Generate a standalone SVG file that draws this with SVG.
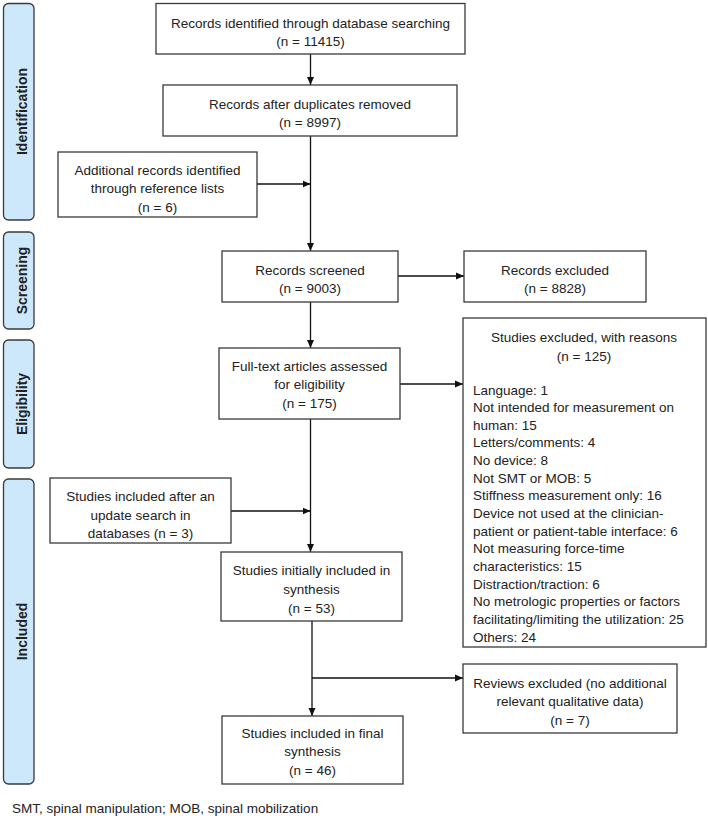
<svg xmlns="http://www.w3.org/2000/svg" width="708" height="819" viewBox="0 0 708 819">
<style>
text{font-family:"Liberation Sans",Arial,sans-serif;font-size:13.5px;fill:#222}
.c{text-anchor:middle}
.box{fill:#fff;stroke:#3a3a3a;stroke-width:1.3}
.bar{fill:#cde8fb;stroke:#3a3a3a;stroke-width:1.3}
.lab{font-weight:bold;font-size:14px;text-anchor:middle}
.con{stroke:#111;stroke-width:1.3;fill:none}
</style>
<defs>
<marker id="ah" markerUnits="userSpaceOnUse" markerWidth="8" markerHeight="8" refX="8" refY="4" orient="auto">
<path d="M0,0.5 L8,4 L0,7.5 z" fill="#111"/>
</marker>
</defs>
<rect width="708" height="819" fill="#fff"/>

<g id="phase-identification">
<rect class="bar" x="3.5" y="3.5" width="30.5" height="216.5" rx="5"/>
<text class="lab" transform="translate(27,111.5) rotate(-90)">Identification</text>
</g>
<g id="phase-screening">
<rect class="bar" x="3.5" y="232" width="30.5" height="97" rx="5"/>
<text class="lab" transform="translate(27,280.5) rotate(-90)">Screening</text>
</g>
<g id="phase-eligibility">
<rect class="bar" x="3.5" y="340" width="30.5" height="128" rx="5"/>
<text class="lab" transform="translate(27,404) rotate(-90)">Eligibility</text>
</g>
<g id="phase-included">
<rect class="bar" x="3.5" y="479" width="30.5" height="305" rx="5"/>
<text class="lab" transform="translate(27,631.5) rotate(-90)">Included</text>
</g>

<g id="connectors">
<line class="con" x1="310.5" y1="54" x2="310.5" y2="85" marker-end="url(#ah)"/>
<line class="con" x1="310.5" y1="136" x2="310.5" y2="251" marker-end="url(#ah)"/>
<line class="con" x1="257" y1="184" x2="310.5" y2="184" marker-end="url(#ah)"/>
<line class="con" x1="398" y1="276" x2="464" y2="276" marker-end="url(#ah)"/>
<line class="con" x1="310.5" y1="302" x2="310.5" y2="348" marker-end="url(#ah)"/>
<line class="con" x1="400" y1="384" x2="463" y2="384" marker-end="url(#ah)"/>
<line class="con" x1="310.5" y1="419" x2="310.5" y2="552" marker-end="url(#ah)"/>
<line class="con" x1="231" y1="511" x2="310.5" y2="511" marker-end="url(#ah)"/>
<line class="con" x1="312" y1="621" x2="312" y2="716" marker-end="url(#ah)"/>
<line class="con" x1="312" y1="678" x2="463" y2="678" marker-end="url(#ah)"/>
</g>

<g id="records-identified">
<rect class="box" x="156" y="3.5" width="309" height="50.5"/>
<text class="c" x="310.5" y="27.5">Records identified through database searching</text>
<text class="c" x="310.5" y="46">(n = 11415)</text>
</g>
<g id="records-after-duplicates">
<rect class="box" x="163" y="85" width="294" height="51"/>
<text class="c" x="310" y="108.5">Records after duplicates removed</text>
<text class="c" x="310" y="127">(n = 8997)</text>
</g>
<g id="additional-records">
<rect class="box" x="58" y="152" width="199" height="65"/>
<text class="c" x="157.5" y="174.5">Additional records identified</text>
<text class="c" x="157.5" y="193">through reference lists</text>
<text class="c" x="157.5" y="211.5">(n = 6)</text>
</g>
<g id="records-screened">
<rect class="box" x="222" y="251" width="176" height="51"/>
<text class="c" x="310" y="274.5">Records screened</text>
<text class="c" x="310" y="293">(n = 9003)</text>
</g>
<g id="records-excluded">
<rect class="box" x="464" y="251" width="182" height="51"/>
<text class="c" x="555" y="274.5">Records excluded</text>
<text class="c" x="555" y="293">(n = 8828)</text>
</g>
<g id="full-text">
<rect class="box" x="219" y="348" width="181" height="71"/>
<text class="c" x="309.5" y="370.5">Full-text articles assessed</text>
<text class="c" x="309.5" y="389">for eligibility</text>
<text class="c" x="309.5" y="407.5">(n = 175)</text>
</g>
<g id="studies-excluded">
<rect class="box" x="463" y="318" width="243" height="329"/>
<text class="c" x="584" y="342">Studies excluded, with reasons</text>
<text class="c" x="584" y="360.5">(n = 125)</text>
<text x="473" y="394.5">Language: 1</text>
<text x="473" y="412.1">Not intended for measurement on</text>
<text x="473" y="429.8">human: 15</text>
<text x="473" y="447.4">Letters/comments: 4</text>
<text x="473" y="465.1">No device: 8</text>
<text x="473" y="482.7">Not SMT or MOB: 5</text>
<text x="473" y="500.3">Stiffness measurement only: 16</text>
<text x="473" y="518">Device not used at the clinician-</text>
<text x="473" y="535.6">patient or patient-table interface: 6</text>
<text x="473" y="553.3">Not measuring force-time</text>
<text x="473" y="570.9">characteristics: 15</text>
<text x="473" y="588.5">Distraction/traction: 6</text>
<text x="473" y="606.2">No metrologic properties or factors</text>
<text x="473" y="623.8">facilitating/limiting the utilization: 25</text>
<text x="473" y="641.5">Others: 24</text>
</g>
<g id="update-search">
<rect class="box" x="50" y="478" width="181" height="65"/>
<text class="c" x="140.5" y="501">Studies included after an</text>
<text class="c" x="140.5" y="519.5">update search in</text>
<text class="c" x="140.5" y="538">databases (n = 3)</text>
</g>
<g id="initially-included">
<rect class="box" x="221" y="552" width="181" height="69"/>
<text class="c" x="311.5" y="575">Studies initially included in</text>
<text class="c" x="311.5" y="594">synthesis</text>
<text class="c" x="311.5" y="612.5">(n = 53)</text>
</g>
<g id="reviews-excluded">
<rect class="box" x="463" y="664" width="214" height="69"/>
<text class="c" x="570" y="688">Reviews excluded (no additional</text>
<text class="c" x="570" y="706">relevant qualitative data)</text>
<text class="c" x="570" y="724.5">(n = 7)</text>
</g>
<g id="final-synthesis">
<rect class="box" x="222" y="716" width="181" height="68"/>
<text class="c" x="312.5" y="738">Studies included in final</text>
<text class="c" x="312.5" y="756">synthesis</text>
<text class="c" x="312.5" y="774.5">(n = 46)</text>
</g>

<text x="12" y="813">SMT, spinal manipulation; MOB, spinal mobilization</text>
</svg>
